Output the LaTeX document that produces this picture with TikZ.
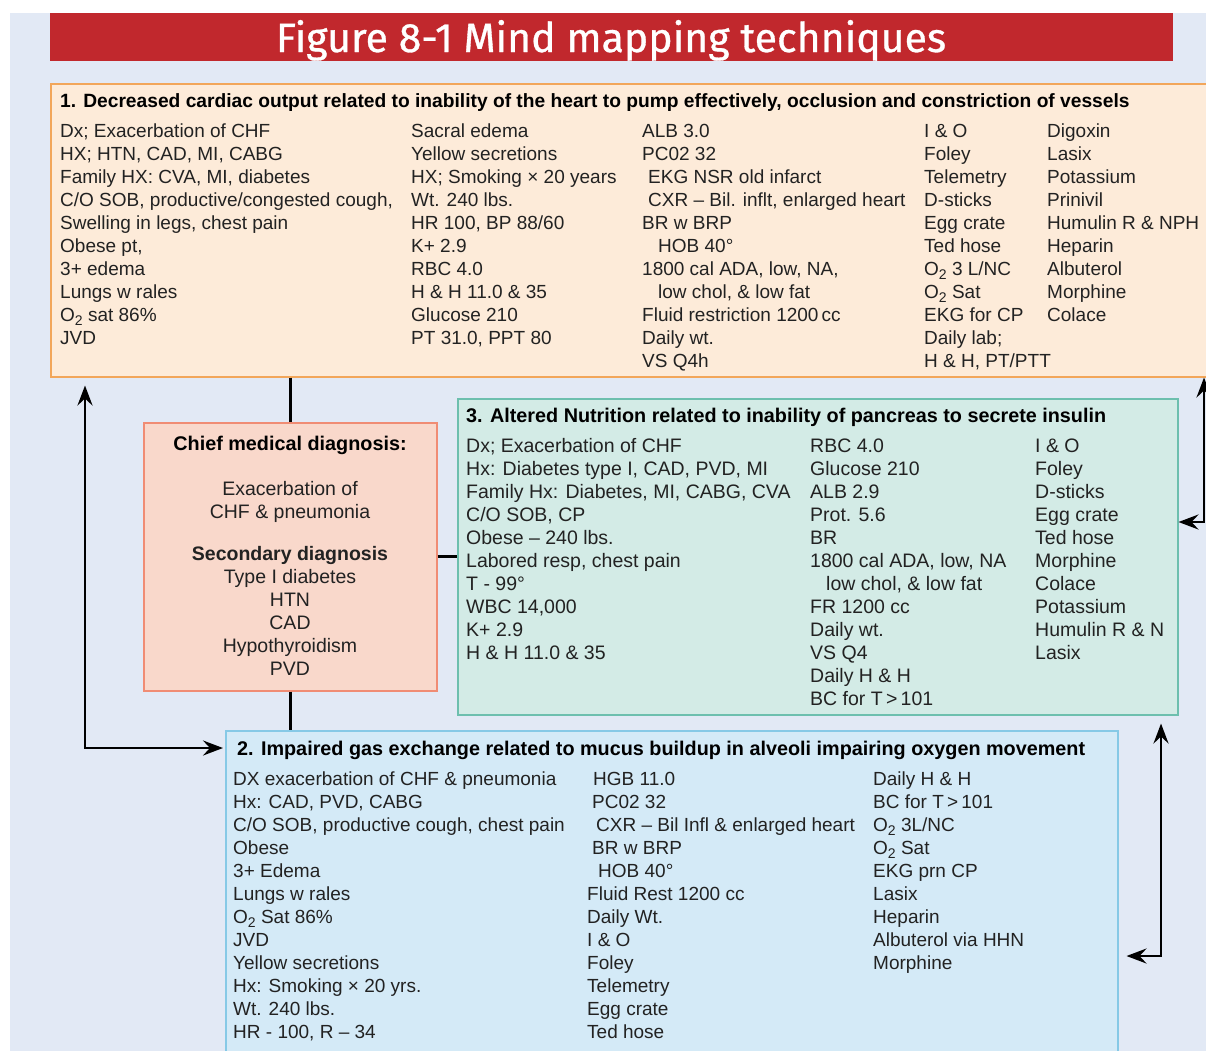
\documentclass[tikz,border=0pt]{standalone}
\usepackage{fontspec}
\setmainfont{Liberation Sans}
\newfontfamily\titlefont[FakeBold=0.8]{Fira Sans}
\usetikzlibrary{arrows.meta}
\definecolor{pagebg}{HTML}{E2E9F5}
\definecolor{titlered}{HTML}{C1282D}
\definecolor{bAfill}{HTML}{FDEBD9}
\definecolor{bAdraw}{HTML}{F2A65A}
\definecolor{chfill}{HTML}{F9D8CB}
\definecolor{chdraw}{HTML}{F08C74}
\definecolor{bCfill}{HTML}{D3EBE6}
\definecolor{bCdraw}{HTML}{6DBFAE}
\definecolor{bBfill}{HTML}{D4EAF7}
\definecolor{bBdraw}{HTML}{86C9E6}
\definecolor{txtcol}{HTML}{222222}
\newcommand{\Otwo}{O\raisebox{-0.45ex}{\fontsize{14}{14}\selectfont 2}}
\newcommand{\colL}[1]{\begin{tabular}[t]{@{}l@{}}#1\end{tabular}}
\newcommand{\colC}[1]{\begin{tabular}[t]{@{}c@{}}#1\end{tabular}}
\tikzset{
  boxbase/.style={draw, line width=1.5pt, inner sep=0pt, anchor=north west},
  boxA/.style={boxbase, draw=bAdraw, fill=bAfill},
  boxCh/.style={boxbase, draw=chdraw, fill=chfill},
  boxC/.style={boxbase, draw=bCdraw, fill=bCfill},
  boxB/.style={boxbase, draw=bBdraw, fill=bBfill},
  txt/.style={inner sep=0pt, anchor=base west, text=txtcol, font=\fontsize{19}{23}\selectfont},
  txtc/.style={inner sep=0pt, anchor=base, text=txtcol, font=\fontsize{19.5}{23}\selectfont},
  hdr/.style={inner sep=0pt, anchor=base west, text=black, font=\fontsize{19.8}{23}\selectfont\bfseries},
  conn/.style={line width=2.8pt, black},
  biarrow/.style={conn, {Stealth[length=20pt,width=15pt,inset=7pt]}-{Stealth[length=20pt,width=15pt,inset=7pt]}},
}
\begin{document}
\begin{tikzpicture}[x=1pt,y=-1pt]
\useasboundingbox (0,0) rectangle (1206,1050);
\clip (0,0) rectangle (1206,1050);
\fill[white] (0,0) rectangle (1206,1050);
\fill[pagebg] (10,13) rectangle (1212,1056);
\node[fill=titlered, minimum width=1123pt, minimum height=48pt, inner sep=0pt, anchor=north west] (bar) at (50,13) {};
\node[inner sep=0pt, anchor=base, text=white, font=\titlefont\fontsize{41}{41}\selectfont] (title) at (611,52) {Figure 8-1 Mind mapping techniques};

% boxes
\node[boxA, minimum width=1165pt, minimum height=293pt] (b1) at (50,83) {};
\node[boxCh, minimum width=293pt, minimum height=268pt] (chief) at (143,422) {};
\node[boxC, minimum width=720pt, minimum height=316pt] (b3) at (457,398) {};
\node[boxB, minimum width=892pt, minimum height=340pt] (b2) at (225,730) {};

% connectors
\draw[conn] (b1.south -| chief.north) -- (chief.north);
\draw[conn] (chief.east) -- (b3.west |- chief.east);
\draw[conn] (chief.south) -- (b2.north -| chief.south);
\coordinate (L) at (85,748);
\draw[biarrow, shorten <=8pt, shorten >=2pt] (b1.south -| L) -- (L) -- (b2.west |- L);
\coordinate (R1) at (1204,522);
\draw[biarrow] (b1.south -| R1) -- (R1) -- (b3.east |- R1);
\coordinate (R2) at (1161,956);
\draw[biarrow, shorten <=8pt, shorten >=8pt] (b3.south -| R2) -- (R2) -- (b2.east |- R2);

% box 1 text
\node[hdr, font=\fontsize{19.2}{23}\selectfont\bfseries] (h1) at (60,107) {1. Decreased cardiac output related to inability of the heart to pump effectively, occlusion and constriction of vessels};
\node[txt] (a1) at (60,137) {\colL{Dx; Exacerbation of CHF\\HX; HTN, CAD, MI, CABG\\Family HX: CVA, MI, diabetes\\C/O SOB, productive/congested cough,\\Swelling in legs, chest pain\\Obese pt,\\3+ edema\\Lungs w rales\\\Otwo{} sat 86\%\\JVD}};
\node[txt] (a2) at (411,137) {\colL{Sacral edema\\Yellow secretions\\HX; Smoking × 20 years\\Wt. 240 lbs.\\HR 100, BP 88/60\\K+ 2.9\\RBC 4.0\\H \& H 11.0 \& 35\\Glucose 210\\PT 31.0, PPT 80}};
\node[txt] (a3) at (642,137) {\colL{ALB 3.0\\PC02 32\\\hspace{6pt}EKG NSR old infarct\\\hspace{6pt}CXR – Bil. inflt, enlarged heart\\BR w BRP\\\hspace{16pt}HOB 40°\\1800 cal ADA, low, NA,\\\hspace{16pt}low chol, \& low fat\\Fluid restriction 1200\,cc\\Daily wt.\\VS Q4h}};
\node[txt] (a4) at (924,137) {\colL{I \& O\\Foley\\Telemetry\\D-sticks\\Egg crate\\Ted hose\\\Otwo{} 3 L/NC\\\Otwo{} Sat\\EKG for CP\\Daily lab;\\H \& H, PT/PTT}};
\node[txt] (a5) at (1047,137) {\colL{Digoxin\\Lasix\\Potassium\\Prinivil\\Humulin R \& NPH\\Heparin\\Albuterol\\Morphine\\Colace}};

% chief box text
\node[txtc, font=\fontsize{19.8}{23}\selectfont\bfseries, text=black] (c1) at (290,450) {Chief medical diagnosis:};
\node[txtc] (c2) at (290,495) {\colC{Exacerbation of\\CHF \& pneumonia}};
\node[txtc] (c3) at (290,560) {\colC{\textbf{Secondary diagnosis}\\Type I diabetes\\HTN\\CAD\\Hypothyroidism\\PVD}};

% box 3 text
\node[hdr] (h3) at (466,422) {3. Altered Nutrition related to inability of pancreas to secrete insulin};
\node[txt, font=\fontsize{19.5}{23}\selectfont] (d1) at (466,452) {\colL{Dx; Exacerbation of CHF\\Hx: Diabetes type I, CAD, PVD, MI\\Family Hx: Diabetes, MI, CABG, CVA\\C/O SOB, CP\\Obese – 240 lbs.\\Labored resp, chest pain\\T - 99°\\WBC 14,000\\K+ 2.9\\H \& H 11.0 \& 35}};
\node[txt, font=\fontsize{19.5}{23}\selectfont] (d2) at (810,452) {\colL{RBC 4.0\\Glucose 210\\ALB 2.9\\Prot. 5.6\\BR\\1800 cal ADA, low, NA\\\hspace{16pt}low chol, \& low fat\\FR 1200 cc\\Daily wt.\\VS Q4\\Daily H \& H\\BC for T\,>\,101}};
\node[txt, font=\fontsize{19.5}{23}\selectfont] (d3) at (1035,452) {\colL{I \& O\\Foley\\D-sticks\\Egg crate\\Ted hose\\Morphine\\Colace\\Potassium\\Humulin R \& N\\Lasix}};

% box 2 text
\node[hdr] (h2) at (237,755) {2. Impaired gas exchange related to mucus buildup in alveoli impairing oxygen movement};
\node[txt] (e1) at (233,785) {\colL{DX exacerbation of CHF \& pneumonia\\Hx: CAD, PVD, CABG\\C/O SOB, productive cough, chest pain\\Obese\\3+ Edema\\Lungs w rales\\\Otwo{} Sat 86\%\\JVD\\Yellow secretions\\Hx: Smoking × 20 yrs.\\Wt. 240 lbs.\\HR - 100, R – 34}};
\node[txt] (e2) at (587,785) {\colL{\hspace{6pt}HGB 11.0\\\hspace{5pt}PC02 32\\\hspace{9pt}CXR – Bil Infl \& enlarged heart\\\hspace{5pt}BR w BRP\\\hspace{11pt}HOB 40°\\Fluid Rest 1200 cc\\Daily Wt.\\I \& O\\Foley\\Telemetry\\Egg crate\\Ted hose}};
\node[txt] (e3) at (873,785) {\colL{Daily H \& H\\BC for T\,>\,101\\\Otwo{} 3L/NC\\\Otwo{} Sat\\EKG prn CP\\Lasix\\Heparin\\Albuterol via HHN\\Morphine}};
\end{tikzpicture}
\end{document}
